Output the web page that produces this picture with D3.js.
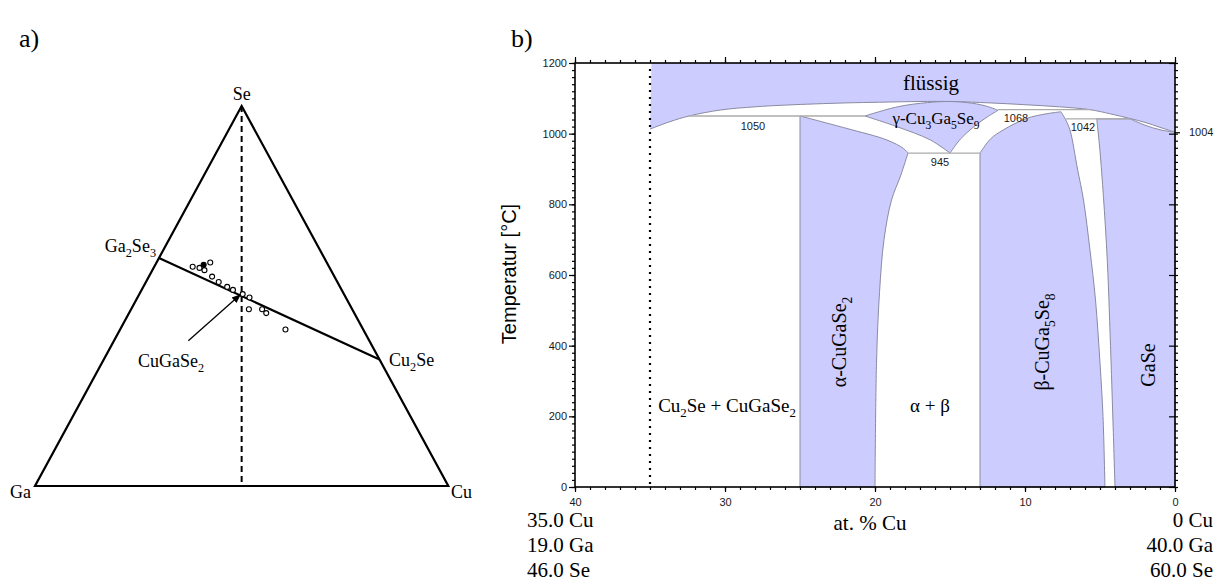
<!DOCTYPE html>
<html><head><meta charset="utf-8">
<script src="https://cdn.jsdelivr.net/npm/d3@7"></script>
<style>body{margin:0;background:#fff}svg{display:block}</style>
</head><body>
<svg id="c" width="1223" height="583"></svg>
<script>
// ================= Panel a) ternary data (at.%) =================
const sampleCu = [9.3, 11.1, 11.7, 13.0, 12.6, 15.3, 17.6, 20.3, 22.1, 25.0, 27.1, 28.5, 31.7, 33.2, 40.0];
const sampleGa = [33.0, 31.5, 30.1, 28.2, 30.6, 29.6, 28.7, 27.3, 26.3, 24.5, 23.3, 25.0, 21.8, 21.3, 18.8];
const sampleSe = [57.7, 57.4, 58.2, 58.8, 56.8, 55.1, 53.7, 52.4, 51.6, 50.5, 49.6, 46.5, 46.5, 45.5, 41.2];
const sampleFilled = [0, 0, 1, 0, 0, 0, 0, 0, 0, 0, 0, 0, 0, 0, 0];
const triCu = [0, 100, 0];   // Ga, Cu, Se corners
const triSe = [0, 0, 100];
const tieCu = [0, 66.7];     // Ga2Se3 -> Cu2Se
const tieSe = [60, 33.3];
const ratioCu = [0, 50];     // Se -> Cu:Ga = 1:1
const ratioSe = [100, 0];
const arrowCu = [18.0, 24.5];
const arrowSe = [38.2, 50.3];

// ================= Panel b) phase diagram data =================
const xTicksMajor = [40, 30, 20, 10, 0];
const yTicksMajor = [0, 200, 400, 600, 800, 1000, 1200];
const dottedCu = 35;
const liquidusCu = [35, 33.67, 32.4, 30.3, 28, 25.9, 22, 19.7, 17, 15, 12.3, 10, 7.7, 5.67, 4.3, 3.0, 2.0, 1.0, 0];
const liquidusT  = [1013, 1034, 1050, 1067, 1076, 1081, 1087, 1089, 1091, 1091, 1087, 1082, 1076, 1068, 1056, 1043, 1032, 1018, 1004];
const alphaTopCu = [25, 21.9, 19.2, 18.1, 17.8];
const alphaTopT  = [1050, 1015, 982, 958, 945];
const alphaRightCu = [17.8, 18.3, 18.9, 19.4, 19.7, 19.9, 20];
const alphaRightT  = [945, 880, 812, 700, 550, 350, 0];
const gammaTopCu = [20.67, 18.5, 16.5, 15, 13.5, 12.5, 11.8];
const gammaTopT  = [1050, 1076, 1088, 1091, 1086, 1077, 1066];
const gammaRightCu = [11.8, 12.6, 13.4, 14.3, 15];
const gammaRightT  = [1066, 1045, 1020, 985, 945];
const gammaLeftCu = [15, 16.3, 18.55, 20.67];
const gammaLeftT  = [945, 982, 1020, 1050];
const betaTopCu = [13, 12.3, 11.47, 9.9, 8.6, 7.6];
const betaTopT  = [945, 985, 1010, 1043, 1056, 1062];
const betaRightCu = [7.6, 7.3, 7.0, 6.5, 6.1, 5.67, 5.3, 5.0, 4.8, 4.67];
const betaRightT  = [1062, 1040, 1010, 900, 812, 671, 529, 350, 200, 0];
const gaseLeftCu = [4.0, 4.3, 4.55, 5.0, 5.22];
const gaseLeftT  = [0, 400, 671, 950, 1042];
const gaseTopCu = [3.0, 2.0, 1.0, 0];
const gaseTopT  = [1042, 1024, 1011, 1004];
const invariantT    = [1050, 1068, 1042, 945];
const invariantFrom = [32.4, 11.8, 7.3, 17.8];
const invariantTo   = [20.67, 5.67, 3.0, 13];

const svg = d3.select("#c");
const SERIF = "'Liberation Serif','Times New Roman',serif";
const SANS = "'Liberation Sans',Arial,sans-serif";

function rich(sel, parts, size) {
  parts.forEach(p => {
    const t = sel.append("tspan").text(p[0]);
    if (p[1] === "sub") t.attr("font-size", size * 0.68).attr("dy", size * 0.28);
    if (p[1] === "back") t.attr("dy", -size * 0.28);
  });
  return sel;
}
function sub(str) { // "_" marks a one-character subscript
  const parts = []; let pendingBack = false;
  for (let i = 0; i < str.length; i++) {
    if (str[i] === "_") { parts.push([str[i + 1], "sub"]); i++; pendingBack = true; }
    else { if (pendingBack) { parts.push([str[i], "back"]); pendingBack = false; } else parts.push([str[i]]); }
  }
  return parts;
}
function label(g, txt, xx, yy, size, anchor, family, rot) {
  const t = g.append("text").attr("font-family", family || SERIF).attr("font-size", size)
    .attr("text-anchor", anchor || "start").attr("fill", "#000");
  if (rot) t.attr("transform", `translate(${xx},${yy}) rotate(${rot})`);
  else t.attr("x", xx).attr("y", yy);
  rich(t, sub(txt), size);
  return t;
}

// ================= Panel a =================
const ga = svg.append("g");
const tx = d3.scaleLinear().domain([0, 100]).range([35, 448.3]);
const ty = d3.scaleLinear().domain([0, 100]).range([486, 106]);
const tern = (cu, se) => [tx(cu + se / 2), ty(se)];
const tline = d3.line();

ga.append("path").attr("d", tline(triCu.map((c, i) => tern(c, triSe[i]))) + "Z")
  .attr("fill", "none").attr("stroke", "#000").attr("stroke-width", 2.2).attr("stroke-linejoin", "miter");
ga.append("path").attr("d", tline(ratioCu.map((c, i) => tern(c, ratioSe[i]))))
  .attr("stroke", "#000").attr("stroke-width", 2).attr("stroke-dasharray", "6,4").attr("fill", "none");
ga.append("path").attr("d", tline(tieCu.map((c, i) => tern(c, tieSe[i]))))
  .attr("stroke", "#000").attr("stroke-width", 2.2).attr("fill", "none");

svg.append("defs").append("marker").attr("id", "ah").attr("viewBox", "0 0 10 10")
  .attr("refX", 9).attr("refY", 5).attr("markerWidth", 7).attr("markerHeight", 7)
  .attr("orient", "auto").append("path").attr("d", "M0,1L10,5L0,9Z").attr("fill", "#000");
ga.append("path").attr("d", tline(arrowCu.map((c, i) => tern(c, arrowSe[i]))))
  .attr("stroke", "#000").attr("stroke-width", 1.3).attr("marker-end", "url(#ah)");

ga.selectAll("circle.s").data(sampleCu.map((c, i) => ({ cu: c, se: sampleSe[i], f: sampleFilled[i] })))
  .join("circle").attr("class", "s")
  .attr("cx", d => tern(d.cu, d.se)[0]).attr("cy", d => tern(d.cu, d.se)[1]).attr("r", 2.5)
  .attr("fill", d => d.f ? "#000" : "#fff").attr("stroke", "#000").attr("stroke-width", 1.1);

label(ga, "a)", 19, 47, 26);
label(ga, "Se", tern(0, 100)[0], 100, 18, "middle");
label(ga, "Ga_2Se_3", 156, 252, 18, "end");
label(ga, "Cu_2Se", 389, 366, 18, "start");
label(ga, "CuGaSe_2", 171, 367, 18, "middle");
label(ga, "Ga", 10, 498, 18, "start");
label(ga, "Cu", 451, 498, 18, "start");

// ================= Panel b =================
const gb = svg.append("g");
const x = d3.scaleLinear().domain([40, 0]).range([575, 1175]);
const y = d3.scaleLinear().domain([0, 1200]).range([487, 63]);
const P = (cuArr, tArr) => cuArr.map((c, i) => [x(c), y(tArr[i])]);
function seg(cuArr, tArr, curved) { return { pts: P(cuArr, tArr), curved }; }
function regionPath(segs, close = true) {
  let d = "";
  segs.forEach((s, i) => {
    let p = d3.line().curve(s.curved ? d3.curveCatmullRom.alpha(0.5) : d3.curveLinear)(s.pts);
    if (i > 0) p = "L" + p.slice(1);
    d += p;
  });
  return d + (close ? "Z" : "");
}
const FILL = "#ccccff", EDGE = "#8a8aa2";
const rev = a => a.slice().reverse();

// liquid
gb.append("path").attr("d", regionPath([
  seg([34.9, 0, 0], [1200, 1200, 1004], false),
  seg(rev(liquidusCu), rev(liquidusT), true)
])).attr("fill", FILL).attr("stroke", "none");
gb.append("path").attr("d", regionPath([seg(liquidusCu, liquidusT, true)], false))
  .attr("fill", "none").attr("stroke", EDGE).attr("stroke-width", 1);

const regions = [
  [seg([25, 25], [0, 1050], false), seg(alphaTopCu, alphaTopT, true), seg(alphaRightCu, alphaRightT, true)],
  [seg(gammaTopCu, gammaTopT, true), seg(gammaRightCu, gammaRightT, true), seg(gammaLeftCu, gammaLeftT, true)],
  [seg([13, 13], [0, 945], false), seg(betaTopCu, betaTopT, true), seg(betaRightCu, betaRightT, true)],
  [seg(gaseLeftCu, gaseLeftT, true), seg([5.22, 3.0], [1042, 1042], false), seg(gaseTopCu, gaseTopT, true), seg([0, 0], [1004, 0], false)]
];
regions.forEach(r => gb.append("path").attr("d", regionPath(r))
  .attr("fill", FILL).attr("stroke", EDGE).attr("stroke-width", 1).attr("stroke-linejoin", "round"));

invariantT.forEach((t, i) => gb.append("line")
  .attr("x1", x(invariantFrom[i])).attr("x2", x(invariantTo[i])).attr("y1", y(t)).attr("y2", y(t))
  .attr("stroke", "#ababab").attr("stroke-width", 1.3));

// dotted composition line
gb.append("line").attr("x1", x(dottedCu)).attr("x2", x(dottedCu)).attr("y1", y(0) - 3).attr("y2", y(1200) + 2)
  .attr("stroke", "#000").attr("stroke-width", 2.2).attr("stroke-dasharray", "2,5");

// axes
function styleAxis(g) {
  g.select(".domain").remove();
  g.selectAll("text").attr("font-family", SANS).attr("font-size", 11).attr("fill", "#1a1a1a");
  g.selectAll("line").attr("stroke", "#000").attr("stroke-width", 1.2);
}
gb.append("g").attr("transform", `translate(0,${y(0)})`)
  .call(d3.axisBottom(x).tickValues(d3.range(0, 41)).tickSize(3).tickFormat("")).call(styleAxis);
gb.append("g").attr("transform", `translate(0,${y(0)})`)
  .call(d3.axisBottom(x).tickValues(xTicksMajor).tickSize(5).tickPadding(6).tickFormat(d3.format("d"))).call(styleAxis);
gb.append("g").attr("transform", `translate(0,${y(1200)})`)
  .call(d3.axisTop(x).tickValues(d3.range(0, 41)).tickSize(3).tickFormat("")).call(styleAxis);
gb.append("g").attr("transform", `translate(0,${y(1200)})`)
  .call(d3.axisTop(x).tickValues(xTicksMajor).tickSize(6).tickFormat("")).call(styleAxis);
gb.append("g").attr("transform", `translate(${x(40)},0)`)
  .call(d3.axisLeft(y).tickValues(d3.range(0, 1201, 20)).tickSize(3).tickFormat("")).call(styleAxis);
gb.append("g").attr("transform", `translate(${x(40)},0)`)
  .call(d3.axisLeft(y).tickValues(yTicksMajor).tickSize(6).tickPadding(2).tickFormat(d3.format("d"))).call(styleAxis);
gb.append("g").attr("transform", `translate(${x(0)},0)`)
  .call(d3.axisRight(y).tickValues(d3.range(0, 1201, 20)).tickSize(3).tickFormat("")).call(styleAxis);
gb.append("g").attr("transform", `translate(${x(0)},0)`)
  .call(d3.axisRight(y).tickValues(yTicksMajor).tickSize(-6).tickFormat("")).call(styleAxis);
gb.append("g").attr("transform", `translate(${x(0)},0)`)
  .call(d3.axisRight(y).tickValues([1004]).tickSize(5).tickPadding(9).tickFormat(d3.format("d"))).call(styleAxis);

gb.append("rect").attr("x", x(40)).attr("y", y(1200)).attr("width", x(0) - x(40)).attr("height", y(0) - y(1200))
  .attr("fill", "none").attr("stroke", "#000").attr("stroke-width", 1.6);

// invariant temperature labels
const small = (t, xx, yy) => gb.append("text").attr("x", xx).attr("y", yy).attr("text-anchor", "middle")
  .attr("font-family", SANS).attr("font-size", 11).attr("fill", "#1a1a1a").text(t);
small("1050", 753, 130);
small("945", 940, 166);
small("1068", 1016, 122);
small("1042", 1083, 131);

label(gb, "b)", 511, 47, 26);
label(gb, "flüssig", 931, 90, 21, "middle");
label(gb, "γ-Cu_3Ga_5Se_9", 936, 124, 17, "middle");
label(gb, "Cu_2Se + CuGaSe_2", 727, 412, 19, "middle");
label(gb, "α + β", 930, 412, 19, "middle");
label(gb, "α-CuGaSe_2", 846, 342, 20, "middle", SERIF, -90);
label(gb, "β-CuGa_5Se_8", 1049, 342, 20, "middle", SERIF, -90);
label(gb, "GaSe", 1155, 365, 20, "middle", SERIF, -90);
gb.append("text").attr("transform", "translate(516,274) rotate(-90)").attr("text-anchor", "middle")
  .attr("font-family", SANS).attr("font-size", 20).attr("fill", "#000").text("Temperatur [°C]");
label(gb, "at. % Cu", 870, 530, 21, "middle");
label(gb, "35.0 Cu", 527, 527, 21, "start");
label(gb, "19.0 Ga", 527, 552, 21, "start");
label(gb, "46.0 Se", 527, 577, 21, "start");
label(gb, "0 Cu", 1213, 527, 21, "end");
label(gb, "40.0 Ga", 1213, 552, 21, "end");
label(gb, "60.0 Se", 1213, 577, 21, "end");
</script>
</body></html>
